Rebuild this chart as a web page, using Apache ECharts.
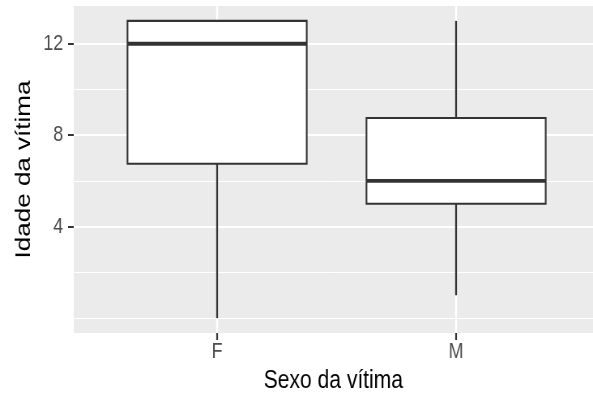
<!DOCTYPE html>
<html><head><meta charset="utf-8">
<script src="https://cdn.jsdelivr.net/npm/echarts@6/dist/echarts.min.js"></script>
<style>
html,body{margin:0;padding:0;background:#fff;overflow:hidden}
#wrap{width:593px;height:401px;overflow:hidden}
#c{width:732px;height:401px;transform:scaleX(0.81011);transform-origin:0 0}
</style>
</head><body><div id="wrap"><div id="c"></div></div><script>
const categories = ['F', 'M'];
const whiskerLow = [0, 1];
const q1 = [6.75, 5];
const median = [12, 6];
const q3 = [13, 8.75];
const whiskerHigh = [13, 13];
const yMajorTicks = [4, 8, 12];
const yMinorTicks = [0, 2, 6, 10];
const xTicks = categories.map((c, i) => i + 1);

const boxData = categories.map((c, i) => [i + 1, whiskerLow[i], q1[i], median[i], q3[i], whiskerHigh[i]]);

const sans = "'Liberation Sans', Arial, sans-serif";
const ink = '#333333';

function renderBox(params, api) {
  const x = api.value(0);
  const pLo = api.coord([x, api.value(1)]);
  const pQ1 = api.coord([x, api.value(2)]);
  const pMed = api.coord([x, api.value(3)]);
  const pQ3 = api.coord([x, api.value(4)]);
  const pHi = api.coord([x, api.value(5)]);
  const half = api.size([0.75, 0])[0] / 2;
  const cx = pMed[0];
  const lineStyle = { stroke: ink, lineWidth: 2.3 };
  return {
    type: 'group',
    children: [
      { type: 'line', shape: { x1: cx, y1: pLo[1], x2: cx, y2: pQ1[1] }, style: lineStyle },
      { type: 'line', shape: { x1: cx, y1: pQ3[1], x2: cx, y2: pHi[1] }, style: lineStyle },
      { type: 'rect', shape: { x: cx - half, y: pQ3[1], width: half * 2, height: pQ1[1] - pQ3[1] },
        style: { fill: '#ffffff', stroke: ink, lineWidth: 2.1 } },
      { type: 'line', shape: { x1: cx - half, y1: pMed[1], x2: cx + half, y2: pMed[1] },
        style: { stroke: ink, lineWidth: 3.8 } }
    ]
  };
}

const chart = echarts.init(document.getElementById('c'), null, { renderer: 'canvas' });
chart.setOption({
  animation: false,
  backgroundColor: '#ffffff',
  grid: { left: 91, right: 0, top: 6, bottom: 68, show: true, backgroundColor: '#EBEBEB', borderWidth: 0 },
  xAxis: {
    type: 'value', min: 0.4, max: 2.573, position: 'bottom',
    axisLine: { show: false, onZero: false },
    axisTick: { show: true, customValues: xTicks, length: 7, lineStyle: { color: ink, width: 2.2 } },
    axisLabel: { customValues: xTicks, formatter: v => categories[Math.round(v) - 1], color: '#4D4D4D',
      fontSize: 22, fontFamily: sans, margin: 8 },
    splitLine: { show: true, lineStyle: { color: '#ffffff', width: 2.4 } },
    name: 'Sexo da vítima', nameLocation: 'middle', nameGap: 34,
    nameTextStyle: { color: '#000000', fontSize: 26, fontFamily: sans }
  },
  yAxis: [{
    type: 'value', min: -0.65, max: 13.65,
    axisLine: { show: false, onZero: false },
    axisTick: { show: true, customValues: yMajorTicks, length: 7, lineStyle: { color: ink, width: 2 } },
    axisLabel: { customValues: yMajorTicks, color: '#4D4D4D', fontSize: 22, fontFamily: sans, margin: 13 },
    splitLine: { show: true, lineStyle: { color: '#ffffff', width: 2 } },
    name: 'Idade da vítima', nameLocation: 'middle', nameGap: 44,
    nameTextStyle: { color: '#000000', fontSize: 26, fontFamily: sans }
  }, {
    type: 'value', min: -0.65, max: 13.65, position: 'left',
    axisLine: { show: false, onZero: false },
    axisTick: { show: false, customValues: yMinorTicks },
    axisLabel: { show: false, customValues: yMinorTicks },
    splitLine: { show: true, lineStyle: { color: '#ffffff', width: 1 } }
  }],
  series: [{
    type: 'custom',
    renderItem: renderBox,
    encode: { x: 0, y: [1, 2, 3, 4, 5] },
    data: boxData
  }]
});
</script></body></html>
